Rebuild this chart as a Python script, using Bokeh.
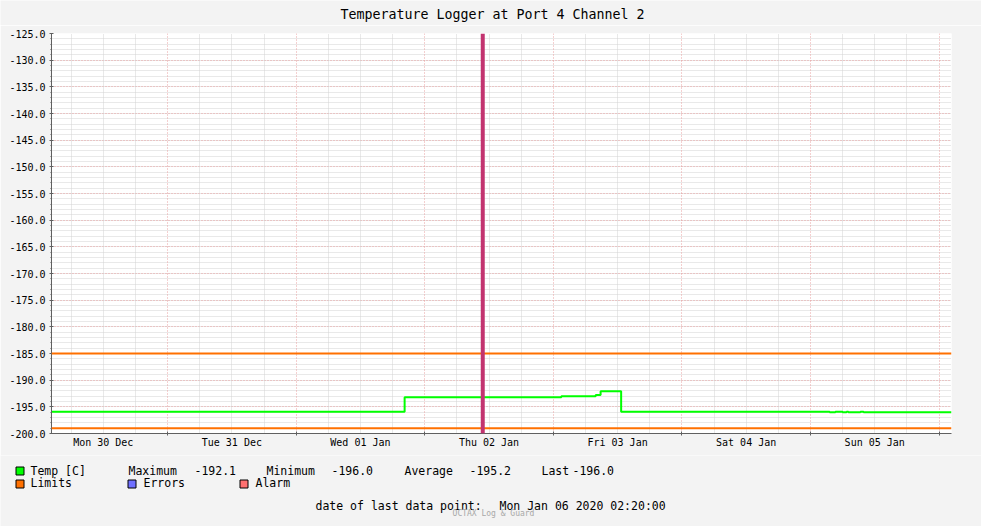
import numpy as np
import pandas as pd
from bokeh.plotting import figure
from bokeh.layouts import column
from bokeh.models import (Range1d, FixedTicker, SingleIntervalTicker, PrintfTickFormatter,
                          DatetimeTickFormatter, Grid, Span, Label)
from bokeh.core.properties import value
from bokeh.embed import file_html
from bokeh.resources import INLINE

# ---------------- data ----------------
title_text = "Temperature Logger at Port 4 Channel 2"
start_time = "2019-12-30 02:20"
end_time = "2020-01-06 02:20"

temp_times = ["2019-12-30 02:20", "2020-01-01 20:15", "2020-01-03 01:30", "2020-01-03 07:55",
              "2020-01-03 08:50", "2020-01-03 12:40", "2020-01-05 03:35", "2020-01-05 04:40",
              "2020-01-05 06:00", "2020-01-05 06:45", "2020-01-05 07:05", "2020-01-05 09:20",
              "2020-01-05 09:55", "2020-01-06 02:20"]
temp_values = [-195.9, -193.2, -193.0, -192.8, -192.1, -195.9, -196.0, -195.9,
               -196.0, -195.9, -196.0, -195.9, -196.0, -196.0]

limit_values = [-185.0, -199.0]
alarm_times = ["2020-01-02 10:50"]

legend_names = ["Temp [C]", "Limits", "Errors", "Alarm"]
legend_colors = ["#00FF00", "#FF7000", "#7070FF", "#FF7070"]
stat_names = ["Maximum", "Minimum", "Average", "Last"]
footer_label = "date of last data point:"
watermark = "OCTAX Log & Guard"

y_min, y_max = -200.0, -125.0


def ms(s):
    return pd.Timestamp(s).value // 10**6


start_ms, end_ms = ms(start_time), ms(end_time)
temp_ms = [ms(s) for s in temp_times]
alarm_ms = [ms(s) for s in alarm_times]

noon_ms = [t.value // 10**6 for t in pd.date_range("2019-12-30 12:00", "2020-01-05 12:00", freq="D")]
midnight_ms = [t.value // 10**6 for t in pd.date_range("2019-12-31", "2020-01-06", freq="D")]
six_ms = [t.value // 10**6 for t in pd.date_range("2019-12-30 06:00", "2020-01-06 00:00", freq="6h")
          if t.hour != 0]

# statistics (time weighted average)
tv = np.array(temp_ms, dtype=float)
vv = np.array(temp_values)
dur = np.diff(tv)
stat_vals = [vv.max(), vv.min(), (vv[:-1] * dur).sum() / dur.sum(), vv[-1]]

MONO = "DejaVu Sans Mono"
AX = "#606060"
BG = "#F3F3F3"
W = 981
DY = -4  # text baseline correction


def panel(h, y0):
    f = figure(width=W, height=h, x_range=Range1d(0, W), y_range=Range1d(y0 + h, y0),
               x_axis_type=None, y_axis_type=None, output_backend="svg", toolbar_location=None,
               title=None, min_border=0, background_fill_color=BG, border_fill_color=BG,
               outline_line_color=None, frame_align=False)
    f.grid.visible = False
    return f


# ---------------- title panel ----------------
tp = panel(25, 0)
tp.text(x=[492], y=[18 + DY], text=[title_text], text_font=value(MONO), text_font_size="13.3px",
        text_color="black", text_align="center", text_baseline="alphabetic")

# ---------------- main chart ----------------
p = figure(width=W, height=430, x_axis_type="datetime",
           x_range=Range1d(start_ms, end_ms), y_range=Range1d(y_min, y_max),
           output_backend="svg", toolbar_location=None, title=None,
           min_border_left=51, min_border_right=30, min_border_top=8, min_border_bottom=22,
           background_fill_color="white", border_fill_color=BG,
           outline_line_color=None, frame_align=False)

xa = p.xaxis[0]
xa.ticker = FixedTicker(ticks=noon_ms, minor_ticks=midnight_ms)
xa.formatter = DatetimeTickFormatter(days="%a %d %b", months="%a %d %b", hours="%a %d %b",
                                     hourmin="%a %d %b", years="%a %d %b")
xa.major_label_text_font = MONO
xa.major_label_text_font_size = "10px"
xa.major_label_text_color = "black"
xa.axis_line_color = AX
xa.major_tick_in = 0
xa.major_tick_out = 0
xa.minor_tick_in = 2
xa.minor_tick_out = 2
xa.minor_tick_line_color = AX
xa.major_label_standoff = 1

ya = p.yaxis[0]
ya.ticker = SingleIntervalTicker(interval=5, num_minor_ticks=5)
ya.formatter = PrintfTickFormatter(format="%.1f")
ya.major_label_text_font = MONO
ya.major_label_text_font_size = "10px"
ya.major_label_text_color = "black"
ya.axis_line_color = AX
ya.major_tick_in = 2
ya.major_tick_out = 2
ya.major_tick_line_color = AX
ya.minor_tick_in = 0
ya.minor_tick_out = 1
ya.minor_tick_line_color = AX
ya.major_label_standoff = 4

MAJ = "#E8A0A0"
MIN = "#D2D2D2"
p.xgrid.visible = False
p.add_layout(Grid(dimension=0, ticker=FixedTicker(ticks=midnight_ms, minor_ticks=six_ms),
                  grid_line_color=MAJ, grid_line_dash="1 2",
                  minor_grid_line_color=MIN, minor_grid_line_dash="1 1"))
p.ygrid.grid_line_color = MAJ
p.ygrid.grid_line_dash = "1 2"
p.ygrid.minor_grid_line_color = MIN
p.ygrid.minor_grid_line_dash = "1 1"

# temperature
p.step(x=temp_ms, y=temp_values, mode="after", line_color=legend_colors[0], line_width=2)

# limits
for lv in limit_values:
    p.add_layout(Span(location=lv, dimension="width", line_color=legend_colors[1], line_width=2))

# alarm event
for am in alarm_ms:
    p.add_layout(Span(location=am, dimension="height", line_color="#C2336F", line_width=4))

# axis arrows (data-space labels just outside the frame)
px_t = (end_ms - start_ms) / 900.0
px_v = (y_max - y_min) / 400.0
p.add_layout(Label(x=start_ms, y=y_max + 4.5 * px_v, text="\u25B2", text_font="DejaVu Sans",
                   text_font_size="8px", text_color="#A01C1C", text_align="center",
                   text_baseline="middle"))
p.add_layout(Label(x=end_ms + 4.5 * px_t, y=y_min, text="\u25B6", text_font="DejaVu Sans",
                   text_font_size="8px", text_color="#A01C1C", text_align="center",
                   text_baseline="middle"))

# ---------------- legend panel ----------------
lg = panel(71, 455)
LS = "11.5px"

box_x = [15, 15, 127, 239]
box_y = [466, 479, 479, 479]
lg.quad(left=[x + 0.5 for x in box_x], right=[x + 8.5 for x in box_x],
        top=[y + 0.5 for y in box_y], bottom=[y + 8.5 for y in box_y],
        fill_color=legend_colors, line_color="black", line_width=1)

name_x = [30, 30, 143, 255]
name_y = [474 + DY, 486 + DY, 486 + DY, 486 + DY]
lg.text(x=name_x, y=name_y, text=legend_names, text_font=value(MONO), text_font_size=LS,
        text_color="black", text_baseline="alphabetic")

stat_name_x = [128, 266, 404, 541]
stat_val_x = [194, 331, 469, 572]
lg.text(x=stat_name_x, y=[474 + DY] * 4, text=stat_names, text_font=value(MONO),
        text_font_size=LS, text_color="black", text_baseline="alphabetic")
lg.text(x=stat_val_x, y=[474 + DY] * 4, text=["%.1f" % v for v in stat_vals],
        text_font=value(MONO), text_font_size=LS, text_color="black", text_baseline="alphabetic")

lg.text(x=[315, 499], y=[509 + DY, 509 + DY],
        text=[footer_label, pd.Timestamp(end_time).strftime("%a %b %d %Y %H:%M:%S")],
        text_font=value(MONO), text_font_size=LS, text_color="black", text_baseline="alphabetic")
lg.text(x=[493], y=[517 + DY], text=[watermark], text_font=value(MONO), text_font_size="8px",
        text_color="#A8A8A8", text_align="center", text_baseline="alphabetic")

layout = column(tp, p, lg, spacing=0)
open("out.html", "w").write(file_html(layout, INLINE))
